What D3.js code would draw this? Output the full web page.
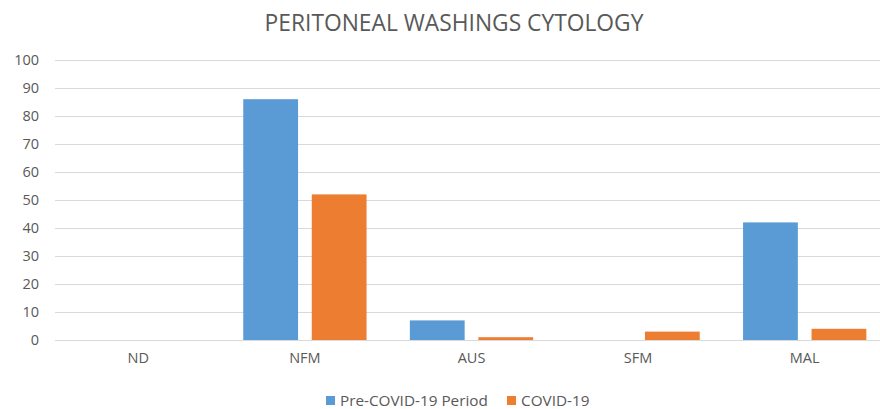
<!DOCTYPE html>
<html><head><meta charset="utf-8">
<script src="https://cdn.jsdelivr.net/npm/d3@7"></script>
<style>body{margin:0;background:#fff}svg{display:block}text{font-family:"Open Sans",sans-serif}</style>
</head><body><svg id="c" width="880" height="409"></svg>
<script>
const categories = ["ND","NFM","AUS","SFM","MAL"];
const seriesNames = ["Pre-COVID-19 Period","COVID-19"];
const preCovid = [0,86,7,0,42];
const covid = [0,52,1,3,4];
const yTicks = [0,10,20,30,40,50,60,70,80,90,100];
const colors = ["#5b9bd5","#ed7d31"];

const svg = d3.select("#c");
const x = d3.scaleBand().domain(categories).range([55,888]).paddingInner(0.26).paddingOuter(0.13);
const y = d3.scaleLinear().domain([0,100]).range([340,60]);
const x1 = d3.scaleBand().domain(seriesNames).range([0,x.bandwidth()]).paddingInner(0.2);

svg.append("text").attr("x",454).attr("y",31).attr("text-anchor","middle")
  .attr("fill","#595959").attr("font-size",22.8).text("PERITONEAL WASHINGS CYTOLOGY");

const yAxis = d3.axisLeft(y).tickValues(yTicks).tickSize(-(888-55)).tickPadding(16);
const gy = svg.append("g").attr("transform","translate(55,0)").call(yAxis);
gy.select(".domain").remove();
gy.selectAll("line").attr("stroke","#d9d9d9").attr("stroke-width",1);
gy.selectAll("text").attr("fill","#595959").attr("font-size",14.5).attr("font-family","'Open Sans',sans-serif");

const data = categories.map((c,i)=>({c, vals:[preCovid[i],covid[i]]}));
const g = svg.append("g");
data.forEach(d=>{
  d.vals.forEach((v,j)=>{
    if(v<=0) return;
    g.append("rect").attr("x",x(d.c)+x1(seriesNames[j])).attr("y",y(v))
      .attr("width",x1.bandwidth()).attr("height",y(0)-y(v)).attr("fill",colors[j]);
  });
});

const xAxis = d3.axisBottom(x).tickSize(0).tickPadding(13);
const gx = svg.append("g").attr("transform","translate(0,340)").call(xAxis);
gx.select(".domain").attr("stroke","#d9d9d9");
gx.selectAll("text").attr("fill","#595959").attr("font-size",14.5).attr("font-family","'Open Sans',sans-serif");

const legend = svg.append("g");
const lx = [326,507];
seriesNames.forEach((s,j)=>{
  legend.append("rect").attr("x",lx[j]).attr("y",396).attr("width",9).attr("height",9).attr("fill",colors[j]);
  legend.append("text").attr("x",lx[j]+14).attr("y",406).attr("fill","#595959").attr("font-size",15.3).text(s);
});
</script></body></html>
